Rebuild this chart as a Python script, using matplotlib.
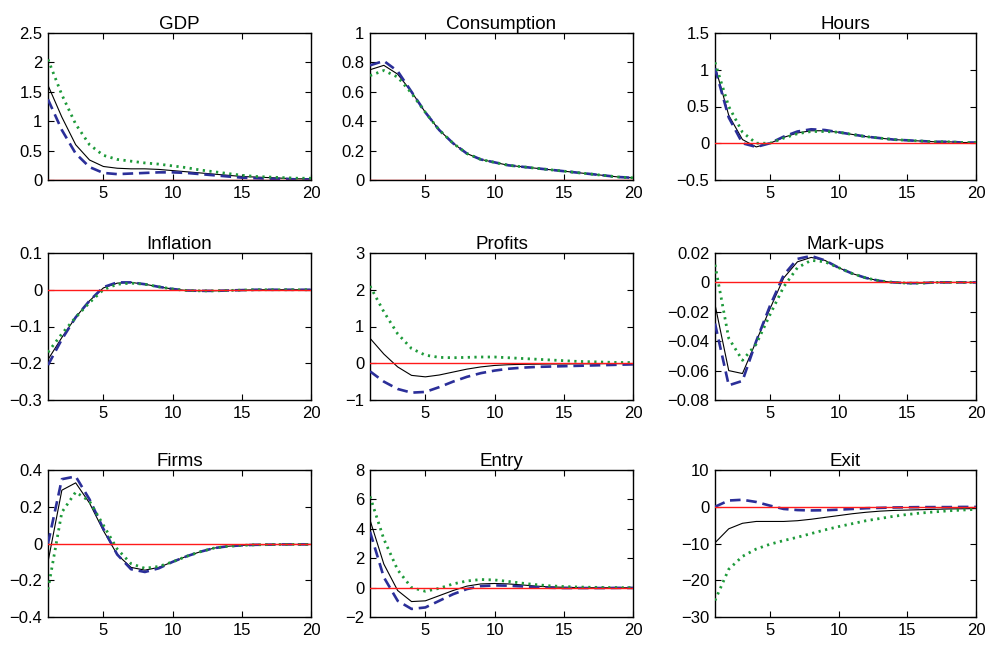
import matplotlib
matplotlib.use('Agg')
import matplotlib.pyplot as plt
from matplotlib.ticker import FuncFormatter
import numpy as np

plt.rcParams['font.family'] = ['Liberation Sans', 'DejaVu Sans']

# 时期 1..20
periods = list(range(1, 21))

titles = ['GDP', 'Consumption', 'Hours',
          'Inflation', 'Profits', 'Mark-ups',
          'Firms', 'Entry', 'Exit']

# 基准 (黑色实线)
gdp_base = [1.61, 1.07, 0.60, 0.34, 0.23, 0.20, 0.19, 0.19, 0.18, 0.16,
            0.14, 0.12, 0.10, 0.08, 0.06, 0.05, 0.04, 0.03, 0.02, 0.02]
cons_base = [0.75, 0.78, 0.72, 0.60, 0.46, 0.34, 0.25, 0.18, 0.14, 0.12,
             0.10, 0.09, 0.08, 0.07, 0.06, 0.05, 0.04, 0.03, 0.02, 0.015]
hours_base = [1.05, 0.38, 0.05, -0.05, 0.00, 0.08, 0.14, 0.17, 0.17, 0.15,
              0.12, 0.09, 0.07, 0.05, 0.04, 0.03, 0.02, 0.02, 0.01, 0.01]
infl_base = [-0.19, -0.13, -0.075, -0.03, 0.005, 0.018, 0.02, 0.015, 0.008, 0.002,
             -0.002, -0.003, -0.003, -0.002, -0.001, 0.0, 0.0, 0.0, 0.0, 0.0]
prof_base = [0.68, 0.25, -0.10, -0.33, -0.37, -0.32, -0.24, -0.16, -0.10, -0.06,
             -0.04, -0.03, -0.025, -0.02, -0.02, -0.015, -0.015, -0.01, -0.01, -0.01]
mark_base = [-0.015, -0.060, -0.062, -0.040, -0.018, 0.003, 0.014, 0.017, 0.015, 0.010,
             0.006, 0.003, 0.001, 0.0, -0.0005, -0.0005, 0.0, 0.0, 0.0, 0.0]
firms_base = [-0.10, 0.29, 0.33, 0.22, 0.07, -0.06, -0.13, -0.145, -0.13, -0.10,
              -0.07, -0.045, -0.025, -0.015, -0.01, -0.007, -0.006, -0.005, -0.005, -0.005]
entry_base = [4.6, 1.6, -0.2, -0.95, -0.9, -0.55, -0.2, 0.1, 0.25, 0.28,
              0.25, 0.18, 0.10, 0.05, 0.02, 0.0, -0.01, -0.01, -0.01, -0.01]
exit_base = [-9.8, -6.0, -4.5, -4.0, -4.0, -4.0, -3.8, -3.4, -2.9, -2.4,
             -1.9, -1.5, -1.2, -1.0, -0.9, -0.8, -0.7, -0.6, -0.55, -0.5]

# 蓝色虚线
gdp_dash = [1.37, 0.85, 0.45, 0.22, 0.12, 0.10, 0.11, 0.12, 0.13, 0.13,
            0.12, 0.10, 0.08, 0.06, 0.04, 0.03, 0.02, 0.02, 0.01, 0.01]
cons_dash = [0.78, 0.81, 0.74, 0.60, 0.46, 0.34, 0.25, 0.18, 0.14, 0.12,
             0.10, 0.09, 0.08, 0.07, 0.06, 0.05, 0.04, 0.03, 0.02, 0.015]
hours_dash = [1.02, 0.35, 0.00, -0.05, 0.00, 0.09, 0.16, 0.19, 0.18, 0.15,
              0.12, 0.09, 0.07, 0.05, 0.04, 0.03, 0.02, 0.02, 0.01, 0.01]
infl_dash = [-0.205, -0.135, -0.075, -0.03, 0.007, 0.02, 0.02, 0.015, 0.008, 0.002,
             -0.002, -0.003, -0.003, -0.002, -0.001, 0.0, 0.0, 0.0, 0.0, 0.0]
prof_dash = [-0.22, -0.50, -0.70, -0.80, -0.78, -0.65, -0.50, -0.37, -0.27, -0.20,
             -0.15, -0.12, -0.10, -0.09, -0.08, -0.07, -0.06, -0.05, -0.04, -0.03]
mark_dash = [-0.028, -0.070, -0.067, -0.040, -0.016, 0.005, 0.016, 0.018, 0.015, 0.010,
             0.006, 0.003, 0.001, 0.0, -0.0005, -0.0005, 0.0, 0.0, 0.0, 0.0]
firms_dash = [0.0, 0.35, 0.365, 0.24, 0.08, -0.06, -0.14, -0.155, -0.135, -0.10,
              -0.07, -0.045, -0.025, -0.015, -0.01, -0.007, -0.006, -0.005, -0.005, -0.005]
entry_dash = [3.8, 0.7, -0.9, -1.45, -1.35, -0.9, -0.45, -0.1, 0.1, 0.15,
              0.13, 0.08, 0.03, -0.01, -0.03, -0.03, -0.03, -0.03, -0.02, -0.02]
exit_dash = [0.0, 1.7, 1.9, 1.3, 0.3, -0.6, -0.9, -1.0, -0.95, -0.8,
             -0.6, -0.4, -0.3, -0.2, -0.15, -0.1, -0.1, -0.1, -0.05, -0.05]

# 绿色点线
gdp_dot = [2.05, 1.45, 0.95, 0.60, 0.42, 0.35, 0.32, 0.29, 0.27, 0.24,
           0.21, 0.17, 0.14, 0.11, 0.08, 0.06, 0.05, 0.04, 0.03, 0.03]
cons_dot = [0.71, 0.745, 0.70, 0.59, 0.46, 0.34, 0.25, 0.18, 0.14, 0.12,
            0.10, 0.09, 0.08, 0.07, 0.06, 0.05, 0.04, 0.03, 0.02, 0.015]
hours_dot = [1.10, 0.50, 0.15, 0.00, 0.00, 0.07, 0.13, 0.16, 0.16, 0.15,
             0.12, 0.09, 0.07, 0.05, 0.04, 0.03, 0.02, 0.02, 0.01, 0.01]
infl_dot = [-0.17, -0.12, -0.075, -0.035, 0.0, 0.015, 0.018, 0.015, 0.008, 0.002,
            -0.002, -0.003, -0.003, -0.002, -0.001, 0.0, 0.0, 0.0, 0.0, 0.0]
prof_dot = [2.10, 1.40, 0.80, 0.40, 0.22, 0.16, 0.15, 0.16, 0.17, 0.17,
            0.15, 0.13, 0.11, 0.09, 0.07, 0.05, 0.04, 0.03, 0.02, 0.02]
mark_dot = [0.012, -0.038, -0.053, -0.042, -0.022, -0.003, 0.010, 0.015, 0.014, 0.010,
            0.006, 0.003, 0.001, 0.0, -0.0005, -0.0005, 0.0, 0.0, 0.0, 0.0]
firms_dot = [-0.25, 0.17, 0.28, 0.23, 0.10, -0.03, -0.11, -0.135, -0.125, -0.10,
             -0.07, -0.045, -0.025, -0.015, -0.01, -0.007, -0.006, -0.005, -0.005, -0.005]
entry_dot = [6.2, 3.3, 1.2, 0.0, -0.25, -0.05, 0.25, 0.45, 0.55, 0.52,
             0.42, 0.30, 0.20, 0.12, 0.07, 0.04, 0.02, 0.01, 0.0, 0.0]
exit_dot = [-25.5, -17.0, -13.5, -11.5, -10.2, -9.2, -8.3, -7.3, -6.3, -5.4,
            -4.6, -3.8, -3.2, -2.6, -2.1, -1.7, -1.4, -1.1, -0.9, -0.7]

zero_line = [0.0] * len(periods)

base = [gdp_base, cons_base, hours_base, infl_base, prof_base,
        mark_base, firms_base, entry_base, exit_base]
dash = [gdp_dash, cons_dash, hours_dash, infl_dash, prof_dash,
        mark_dash, firms_dash, entry_dash, exit_dash]
dot = [gdp_dot, cons_dot, hours_dot, infl_dot, prof_dot,
       mark_dot, firms_dot, entry_dot, exit_dot]

# y 轴刻度
yticks = [[0, 0.5, 1, 1.5, 2, 2.5],
          [0, 0.2, 0.4, 0.6, 0.8, 1],
          [-0.5, 0, 0.5, 1, 1.5],
          [-0.3, -0.2, -0.1, 0, 0.1],
          [-1, 0, 1, 2, 3],
          [-0.08, -0.06, -0.04, -0.02, 0, 0.02],
          [-0.4, -0.2, 0, 0.2, 0.4],
          [-2, 0, 2, 4, 6, 8],
          [-30, -20, -10, 0, 10]]
xticks = [5, 10, 15, 20]


def fmt(v, pos):
    s = '%g' % round(v, 6)
    return s.replace('-', '\u2212')


fig = plt.figure(figsize=(9.9, 6.45), dpi=100)

lefts = [48, 370, 715]
widths = [263, 263, 261]
tops = [33, 253, 470]
height = 147

for i in range(9):
    r, c = divmod(i, 3)
    ax = fig.add_axes([lefts[c] / 990, 1 - (tops[r] + height) / 645,
                       widths[c] / 990, height / 645])
    ax.plot(periods, base[i], color='black', lw=0.8, zorder=3)
    ax.plot(periods, dash[i], color='#2b2f99', lw=1.9, ls=(0, (4, 2.2)), zorder=4)
    ax.plot(periods, dot[i], color='#1e9a3a', lw=2.0, ls=(0, (0.8, 1.6)), zorder=4)
    ax.plot(periods, zero_line, color='#ff1a1a', lw=1.0, zorder=5)
    ax.set_xlim(1, 20)
    ax.set_ylim(yticks[i][0], yticks[i][-1])
    ax.set_xticks(xticks)
    ax.set_yticks(yticks[i])
    ax.yaxis.set_major_formatter(FuncFormatter(fmt))
    ax.tick_params(direction='in', top=True, right=True, length=4, width=0.8,
                   labelsize=12, pad=4)
    for sp in ax.spines.values():
        sp.set_linewidth(1.0)
    ax.set_title(titles[i], fontsize=13.5, pad=3)

fig.savefig('out.png', dpi=100)
